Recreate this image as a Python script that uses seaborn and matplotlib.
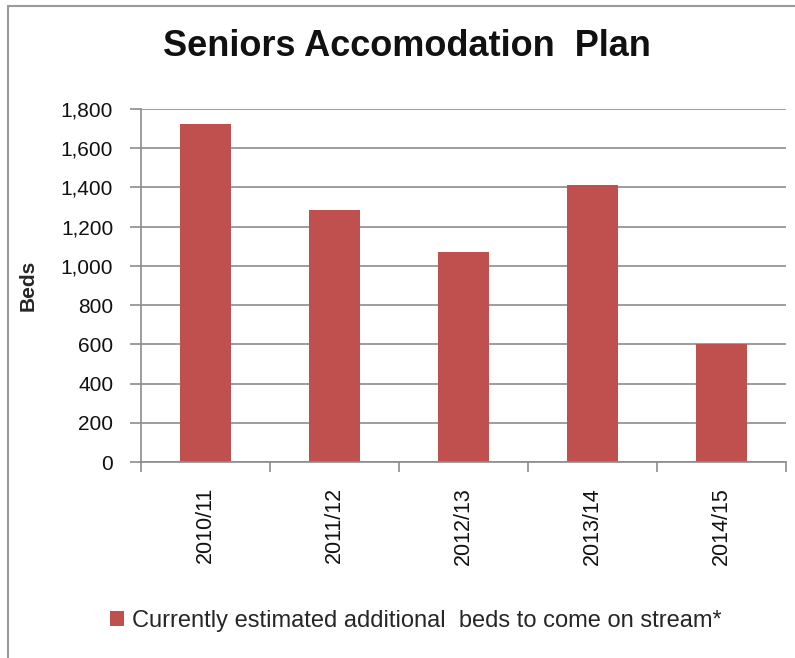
import matplotlib
matplotlib.use("Agg")
import matplotlib.pyplot as plt
import seaborn as sns
import pandas as pd
from matplotlib.lines import Line2D
from matplotlib.ticker import FuncFormatter, MultipleLocator, FixedLocator

years = ["2010/11", "2011/12", "2012/13", "2013/14", "2014/15"]
beds = [1725, 1285, 1070, 1410, 602]
series_name = "Currently estimated additional  beds to come on stream*"
title = "Seniors Accomodation  Plan"
ylabel = "Beds"

sns.set_style("white")
plt.rcParams['font.family'] = ['Liberation Sans', 'DejaVu Sans']

df = pd.DataFrame({"year": years, "beds": beds})

fig = plt.figure(figsize=(7.95, 6.58), dpi=100)
ax = fig.add_axes([141/795, 1-462/658, (786-141)/795, (462-109)/658])

sns.barplot(data=df, x="year", y="beds", color="#C0504D", saturation=1,
            width=0.4, ax=ax, label=series_name, edgecolor="none")

ax.set_ylim(0, 1800)
ax.set_xlim(-0.5, 4.5)
ax.yaxis.set_major_locator(MultipleLocator(200))
ax.yaxis.set_major_formatter(FuncFormatter(lambda v, p: f"{int(v):,}"))
ax.grid(axis="y", color="#8c8c8c", linewidth=1.2)
ax.set_axisbelow(True)
for s in ["top", "right"]:
    ax.spines[s].set_visible(False)
for s in ["left", "bottom"]:
    ax.spines[s].set_color("#8c8c8c")
    ax.spines[s].set_linewidth(1.2)

ax.tick_params(axis="y", which="major", length=8, width=1.2, color="#8c8c8c",
               labelsize=15, labelcolor="#111111", pad=12, left=True)
ax.tick_params(axis="x", which="major", length=0, labelsize=15.5,
               labelcolor="#111111", pad=18, labelrotation=90)
ax.xaxis.set_minor_locator(FixedLocator([-0.5, 0.5, 1.5, 2.5, 3.5, 4.5]))
ax.tick_params(axis="x", which="minor", length=7, width=1.2, color="#8c8c8c", bottom=True)

ax.set_xlabel("")
ax.set_ylabel(ylabel, fontsize=15, fontweight="bold")
ax.yaxis.set_label_coords(-(141-38)/645, 0.5)

fig.text(407/795, 1-47/658, title, fontsize=26, fontweight="bold",
         ha="center", va="center", color="#111111")

handles, labels = ax.get_legend_handles_labels()
leg = fig.legend(handles, labels, loc="center", bbox_to_anchor=(416/795, 1-621/658),
                 frameon=False, fontsize=17, handlelength=0.6, handleheight=0.6,
                 handletextpad=0.35)
if ax.get_legend() is not None:
    ax.get_legend().remove()

# outer chart border (left and top visible)
fig.add_artist(Line2D([8/795, 8/795], [0, 1-6/658], transform=fig.transFigure,
                      color="#9a9a9a", linewidth=1.5))
fig.add_artist(Line2D([8/795, 1], [1-6/658, 1-6/658], transform=fig.transFigure,
                      color="#9a9a9a", linewidth=1.5))

fig.savefig("out.png", dpi=100)
